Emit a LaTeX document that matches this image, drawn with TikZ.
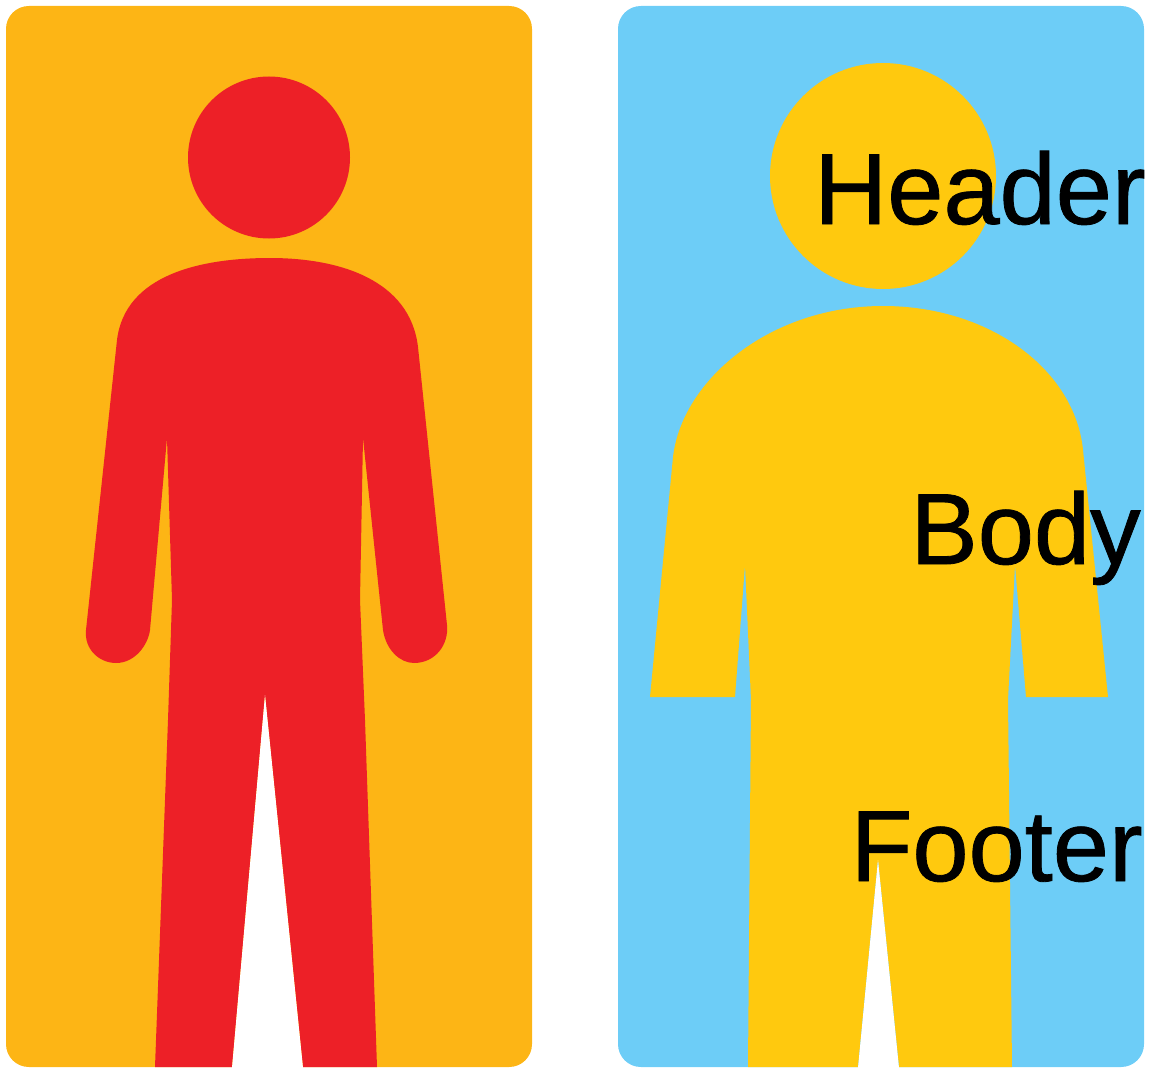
\documentclass[tikz,border=0pt]{standalone}
\usepackage{fontspec}
\setmainfont{Liberation Sans}
\definecolor{panelorange}{HTML}{FDB515}
\definecolor{panelblue}{HTML}{6DCDF7}
\definecolor{figred}{HTML}{ED2027}
\definecolor{figyellow}{HTML}{FFC90E}
\tikzset{
  panel/.style={rounded corners=13pt},
  lbl/.style={font=\fontsize{57.5}{60}\selectfont\addfontfeature{FakeBold=0.8},text=black,inner sep=0pt}
}

\begin{document}
\begin{tikzpicture}[x=0.02cm,y=-0.02cm]

\useasboundingbox (0,0) rectangle (1150,1068);

% Left panel
\fill[panelorange,panel] (6,6) rectangle (532,1067);

% Left figure
\fill[figred] (269,157.5) circle (81);
\fill[figred] (155,1067) -- (168,720) -- (172,600) -- (167,438) -- (150,630)
  .. controls (148,645) and (135,663) .. (116,663)
  .. controls (100,663) and (84,650) .. (86,630)
  -- (117,340)
  .. controls (125,275) and (200,258) .. (270,258)
  .. controls (340,258) and (410,280) .. (418,347)
  -- (447,625)
  .. controls (449,645) and (435,663) .. (414,663)
  .. controls (400,663) and (386,650) .. (383,630)
  -- (363,438) -- (360,600) -- (365,720) -- (377,1067)
  -- (303,1067) -- (265,695) -- (232,1067) -- cycle;
\fill[white] (265,695) -- (303,1068) -- (232,1068) -- cycle;

% Right panel
\fill[panelblue,panel] (618,6) rectangle (1144,1067);

% Right figure
\fill[figyellow] (883,176) circle (113);
\fill[figyellow] (748,1067) -- (751,700) -- (745,565) -- (735,697) -- (650,697)
  -- (673,457)
  .. controls (682,380) and (770,306) .. (883,306)
  .. controls (990,306) and (1075,370) .. (1083,450)
  -- (1108,697) -- (1026,697) -- (1015,565) -- (1008,700) -- (1012,1067)
  -- (899,1067) -- (878,860) -- (858,1067) -- cycle;
\fill[white] (878,860) -- (899,1068) -- (858,1068) -- cycle;

% Labels
\node[lbl,anchor=base east] (header) at (1146,224) {Header};
\node[lbl,anchor=base east] (body) at (1141,564) {Body};
\node[lbl,anchor=base east] (footer) at (1143,881) {Footer};

\end{tikzpicture}
\end{document}
